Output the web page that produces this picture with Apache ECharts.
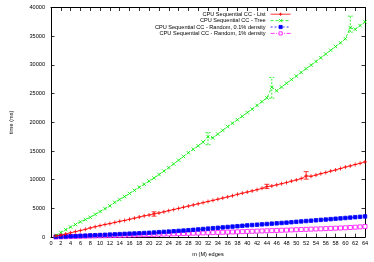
<!DOCTYPE html>
<html><head><meta charset="utf-8">
<script src="https://cdn.jsdelivr.net/npm/echarts@6/dist/echarts.min.js"></script>
<style>html,body{margin:0;padding:0;background:#fff}#c{width:374px;height:262px}</style>
</head><body><div id="c"></div>
<script>
const edges = [1,2,3,4,5,6,7,8,9,10,11,12,13,14,15,16,17,18,19,20,21,22,23,24,25,26,27,28,29,30,31,32,33,34,35,36,37,38,39,40,41,42,43,44,45,46,47,48,49,50,51,52,53,54,55,56,57,58,59,60,61,62,63,64];
const listTimes = [200,350,550,750,950,1150,1350,1600,1800,2000,2200,2350,2550,2750,2900,3100,3300,3500,3700,3850,4050,4200,4400,4600,4800,5000,5200,5400,5600,5800,6000,6200,6400,6600,6800,7000,7200,7450,7650,7850,8050,8250,8500,8800,8900,9100,9300,9500,9750,9950,10200,10650,10600,10800,11050,11250,11500,11700,11950,12200,12400,12650,12850,13100];
const treeTimes = [300,800,1300,1750,2200,2650,3050,3450,3950,4450,4950,5450,6050,6550,7050,7600,8150,8700,9200,9750,10300,10900,11500,12100,12750,13400,14050,14700,15300,15900,16550,17500,17300,17950,18600,19250,19850,20450,21050,21700,22300,22950,23600,24250,26100,25500,26150,26800,27450,28050,28700,29350,29950,30600,31250,31900,32550,33200,33850,34550,36500,36200,36850,37500];
const rand01Times = [50,80,110,140,170,210,250,290,330,360,400,440,480,520,560,600,630,670,710,750,800,860,910,960,1020,1080,1140,1200,1270,1340,1410,1480,1550,1620,1690,1760,1830,1900,1970,2040,2100,2160,2220,2280,2340,2400,2460,2520,2590,2660,2730,2800,2860,2930,3000,3060,3130,3200,3260,3330,3400,3470,3530,3600];
const rand1Times = [30,50,70,95,115,135,155,180,200,220,240,260,285,305,325,350,375,400,425,450,475,500,525,550,575,600,625,650,680,705,730,760,785,810,840,870,895,920,950,980,1010,1040,1070,1100,1130,1160,1190,1220,1250,1285,1320,1350,1385,1415,1445,1480,1515,1550,1585,1620,1670,1720,1780,1850];
// error bars: [edges, low, high]
const listErr = [[21,3650,4400],[44,8450,9200],[52,10100,11400]];
const treeErr = [[32,16100,18200],[45,24200,27800],[61,35700,38500]];
const seriesNames = ['CPU Sequential CC - List','CPU Sequential CC - Tree','CPU Sequential CC - Random, 0.1% density','CPU Sequential CC - Random, 1% density'];
const xTicks = {min:0,max:64,interval:2};
const yTicks = {min:0,max:40000,interval:5000};

const FONT = '"Liberation Sans", Arial, sans-serif';
const chart = echarts.init(document.getElementById('c'), null, {renderer:'canvas'});
const pair = vals => edges.map((x,i)=>[x, vals[i]]);
const plusPath = 'path://M0,5L10,5M5,0L5,10';
const xPath = 'path://M0,0L10,10M10,0L0,10';

function errSeries(name, data, color, dashed){
  return {
    type:'custom', name:name, data:data, z:3, silent:true,
    renderItem:function(params, api){
      const lo = api.coord([api.value(0), api.value(1)]);
      const hi = api.coord([api.value(0), api.value(2)]);
      const w = 2.5;
      const st = {stroke:color, lineWidth:0.8, lineDash: dashed ? [2,1.5] : null};
      return {type:'group', children:[
        {type:'line', shape:{x1:lo[0],y1:lo[1],x2:hi[0],y2:hi[1]}, style:st},
        {type:'line', shape:{x1:lo[0]-w,y1:lo[1],x2:lo[0]+w,y2:lo[1]}, style:st},
        {type:'line', shape:{x1:hi[0]-w,y1:hi[1],x2:hi[0]+w,y2:hi[1]}, style:st}
      ]};
    }
  };
}

const colors = ['#ff0000','#00ee00','#0000ff','#ff00ff'];
const lineSeries = [
  {name:seriesNames[0], vals:listTimes, symbol:plusPath, size:4, dash:'solid', fill:colors[0]},
  {name:seriesNames[1], vals:treeTimes, symbol:xPath, size:3.5, dash:[3,2], fill:colors[1]},
  {name:seriesNames[2], vals:rand01Times, symbol:'rect', size:3.5, dash:[2,2], fill:colors[2]},
  {name:seriesNames[3], vals:rand1Times, symbol:'rect', size:4, dash:[4,1.5,1,1.5], fill:'#ffffff'}
].map((s,i)=>({
  type:'line', name:s.name, data:pair(s.vals), symbol:s.symbol, symbolSize:s.size,
  showAllSymbol:true, animation:false, z:4-i+2,
  lineStyle:{color:colors[i], width:0.8, type:s.dash},
  itemStyle:{color:s.fill, borderColor:colors[i], borderWidth:0.8}
}));

const legends = seriesNames.map((n,i)=>({
  data:[n], orient:'vertical', align:'right', right:83, top:11.2+i*6.4,
  padding:0, itemWidth:20, itemHeight:4, itemGap:0, selectedMode:false,
  lineStyle:{width:0.8}, itemStyle:{borderWidth:0.8},
  textStyle:{fontSize:5.6, fontFamily:FONT, color:'#000', padding:[0,0,0,0]}
}));

const axisCommon = {
  axisLine:{show:true, onZero:false, lineStyle:{color:'#000', width:1}},
  axisTick:{show:true, inside:true, length:3.5, lineStyle:{color:'#000', width:0.8}},
  splitLine:{show:false}
};

chart.setOption({
  animation:false,
  textStyle:{fontFamily:FONT},
  grid:{left:46, right:9, top:7.5, bottom:20.3, containLabel:false},
  legend:legends,
  xAxis:[
    Object.assign({type:'value', position:'bottom', min:xTicks.min, max:xTicks.max, interval:xTicks.interval,
      name:'m (M) edges', nameLocation:'middle', nameGap:11,
      nameTextStyle:{fontSize:5.6, color:'#000', fontFamily:FONT},
      axisLabel:{fontSize:5.6, color:'#000', margin:3, fontFamily:FONT}}, axisCommon),
    Object.assign({type:'value', position:'top', min:xTicks.min, max:xTicks.max, interval:xTicks.interval,
      axisLabel:{show:false}}, axisCommon)
  ],
  yAxis:[
    Object.assign({type:'value', position:'left', min:yTicks.min, max:yTicks.max, interval:yTicks.interval,
      name:'time (ms)', nameLocation:'middle', nameGap:37,
      nameTextStyle:{fontSize:5.6, color:'#000', fontFamily:FONT},
      axisLabel:{fontSize:5.6, color:'#000', margin:6, fontFamily:FONT, formatter:v=>String(v)}}, axisCommon),
    Object.assign({type:'value', position:'right', min:yTicks.min, max:yTicks.max, interval:yTicks.interval,
      axisLabel:{show:false}}, axisCommon)
  ],
  series: lineSeries.concat([
    errSeries('listErr', listErr, colors[0], false),
    errSeries('treeErr', treeErr, colors[1], true)
  ])
});
</script></body></html>
